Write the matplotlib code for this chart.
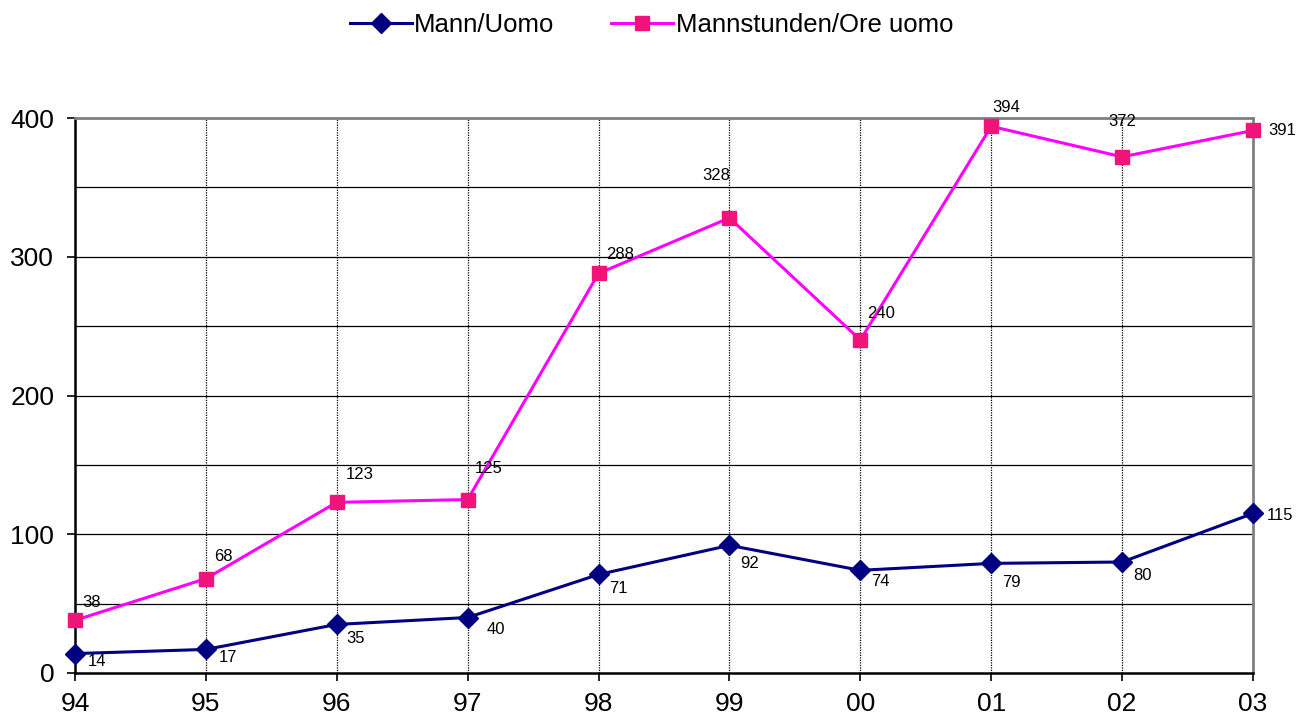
import matplotlib
matplotlib.use("Agg")
import matplotlib.pyplot as plt

plt.rcParams['font.family'] = ['Liberation Sans', 'DejaVu Sans']

jahre = ["94", "95", "96", "97", "98", "99", "00", "01", "02", "03"]
mann = [14, 17, 35, 40, 71, 92, 74, 79, 80, 115]
stunden = [38, 68, 123, 125, 288, 328, 240, 394, 372, 391]

# Beschriftungs-Versatz in Pixeln (dx, dy)
off_mann = [(22, -8), (22, -8), (19, -14), (28, -12), (20, -14), (20, -18),
            (20, -11), (20, -19), (20, -14), (14, -2)]
off_stunden = [(17, 18), (17, 22), (23, 28), (21, 31), (22, 19), (-13, 42),
               (21, 26), (15, 19), (0, 35), (15, 0)]

fig = plt.figure(figsize=(13.11, 7.22), dpi=100)
ax = fig.add_axes([75 / 1311, 49 / 722, 1178 / 1311, 555 / 722])

x = list(range(len(jahre)))
ax.plot(x, mann, color='#000080', lw=2.2, marker='D', ms=10.5,
        mfc='#000080', mec='#000080', label="Mann/Uomo", zorder=3,
        clip_on=False)
ax.plot(x, stunden, color='#FF00FF', lw=2.2, marker='s', ms=10,
        mfc='#F0147A', mec='#F0147A', label="Mannstunden/Ore uomo", zorder=3,
        clip_on=False)

for i, v in enumerate(mann):
    dx, dy = off_mann[i]
    ax.annotate(str(v), (x[i], v), xytext=(dx, dy), textcoords='offset pixels',
                ha='center' if i < 9 else 'left', va='center', fontsize=12)
for i, v in enumerate(stunden):
    dx, dy = off_stunden[i]
    ax.annotate(str(v), (x[i], v), xytext=(dx, dy), textcoords='offset pixels',
                ha='center' if i < 9 else 'left', va='center', fontsize=12)

ax.set_xlim(0, len(jahre) - 1)
ax.set_ylim(0, 400)
ax.set_xticks(x)
ax.set_xticklabels(jahre)
ax.set_yticks([0, 100, 200, 300, 400])
ax.tick_params(axis='both', direction='out', length=6, width=1.2,
               labelsize=19)
ax.tick_params(axis='x', pad=8)
ax.tick_params(axis='y', pad=9)

for y in [50, 100, 150, 200, 250, 300, 350]:
    ax.axhline(y, color='black', lw=0.9, zorder=1)
for xi in x[1:-1]:
    ax.axvline(xi, color='black', lw=0.9, ls=(0, (1, 1)), zorder=1)

ax.spines['left'].set_linewidth(1.8)
ax.spines['bottom'].set_linewidth(1.8)
ax.spines['top'].set_color('#808080')
ax.spines['right'].set_color('#808080')
ax.spines['top'].set_linewidth(2)
ax.spines['right'].set_linewidth(2)

fig.legend(loc='center', bbox_to_anchor=(0.497, 0.965), ncol=2, frameon=False,
           fontsize=18.5, handlelength=2.4, columnspacing=2.2, handletextpad=0.1)

fig.savefig("out.png", dpi=100)
